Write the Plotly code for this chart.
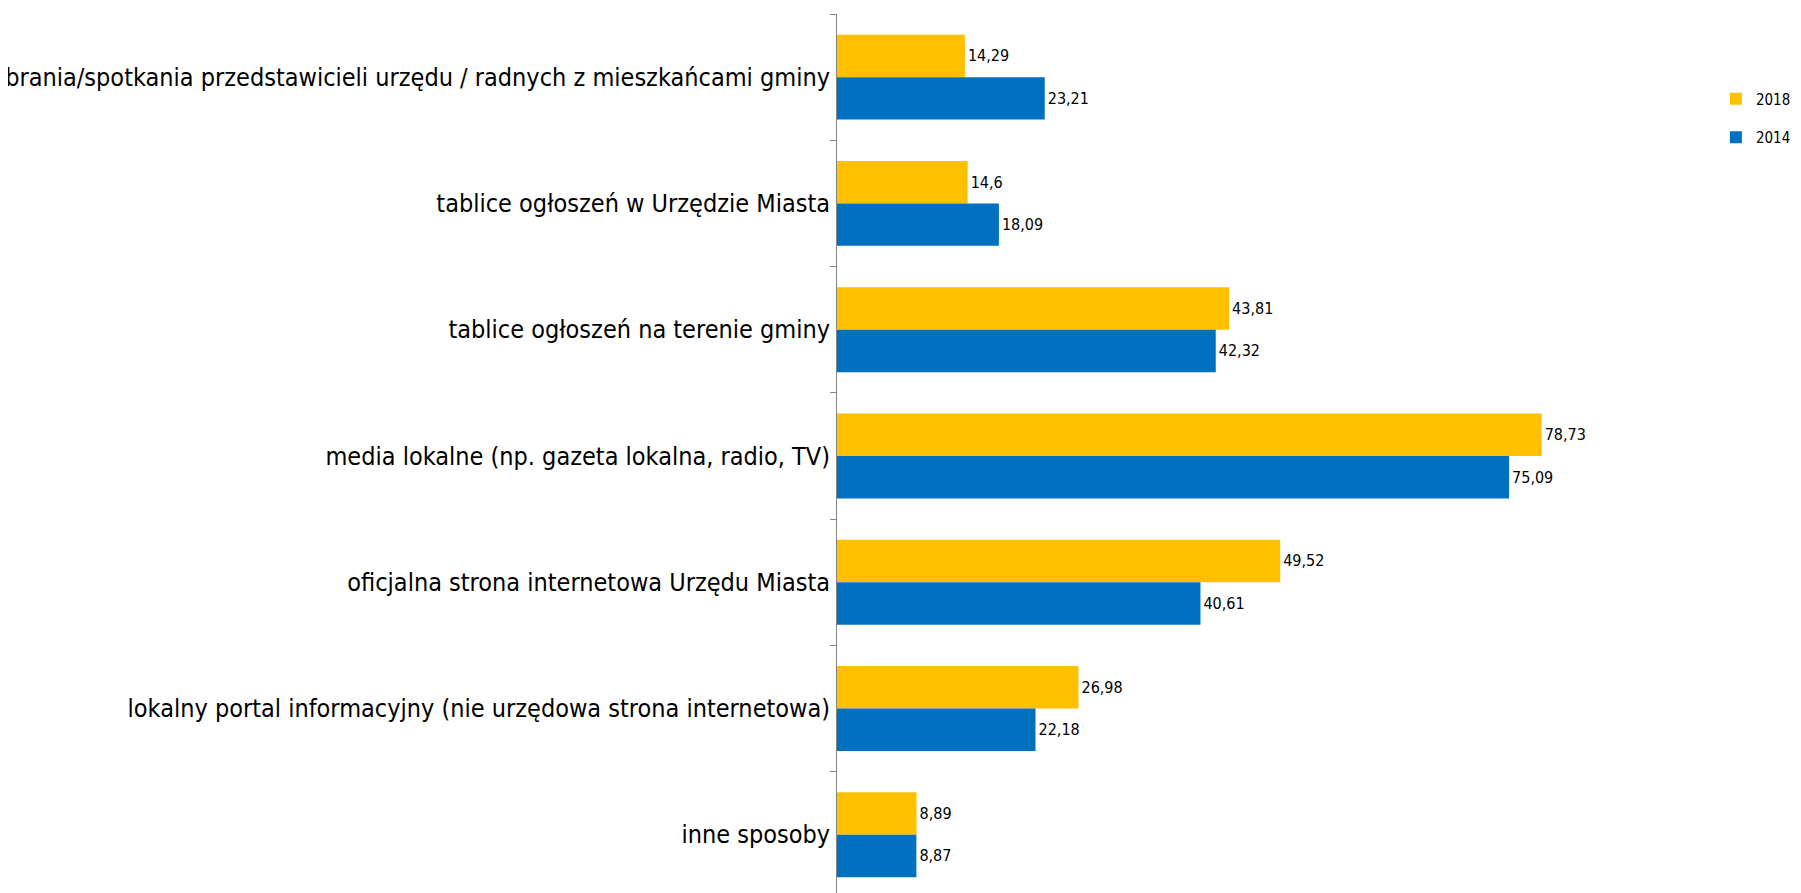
import plotly.graph_objects as go

categories = [
    "zebrania/spotkania przedstawicieli urzędu / radnych z mieszkańcami gminy",
    "tablice ogłoszeń w Urzędzie Miasta",
    "tablice ogłoszeń na terenie gminy",
    "media lokalne (np. gazeta lokalna, radio, TV)",
    "oficjalna strona internetowa Urzędu Miasta",
    "lokalny portal informacyjny (nie urzędowa strona internetowa)",
    "inne sposoby",
]
values_2018 = [14.29, 14.6, 43.81, 78.73, 49.52, 26.98, 8.89]
values_2014 = [23.21, 18.09, 42.32, 75.09, 40.61, 22.18, 8.87]
series_names = ["2018", "2014"]
series_colors = ["#FFC000", "#0070C0"]

NARROW = "DejaVu Sans Condensed, Liberation Sans Narrow, Arial Narrow, sans-serif"


def fmt(v):
    return str(v).replace(".", ",")


fig = go.Figure()
for name, vals, col in zip(series_names, [values_2018, values_2014], series_colors):
    fig.add_trace(go.Bar(
        y=categories,
        x=vals,
        name=name,
        orientation="h",
        marker=dict(color=col, line=dict(width=0)),
        text=[fmt(v) for v in vals],
        textposition="outside",
        textfont=dict(family=NARROW, size=16, color="#000000"),
        constraintext="none",
        cliponaxis=False,
        legendgroup=name,
    ))

fig.update_layout(
    width=1793,
    height=885,
    margin=dict(l=829, r=69, t=6, b=0, autoexpand=False),
    paper_bgcolor="white",
    plot_bgcolor="white",
    barmode="group",
    bargap=0.327,
    bargroupgap=0,
    showlegend=True,
    legend=dict(
        x=0.982, xanchor="left",
        y=0.922, yanchor="top",
        traceorder="grouped",
        tracegroupgap=16,
        font=dict(family=NARROW, size=15, color="#000000"),
        bgcolor="rgba(0,0,0,0)",
        borderwidth=0,
    ),
    xaxis=dict(
        range=[0, 100],
        visible=False,
        showgrid=False,
        zeroline=False,
    ),
    yaxis=dict(
        type="category",
        categoryorder="array",
        categoryarray=categories,
        range=[6.462, -0.5],
        showline=True,
        linecolor="#868686",
        linewidth=1,
        ticks="outside",
        tickson="boundaries",
        ticklen=6,
        tickwidth=1,
        tickcolor="#868686",
        showgrid=False,
        zeroline=False,
        automargin=False,
        ticklabelstandoff=1,
        tickfont=dict(family=NARROW, size=25, color="#000000"),
    ),
)

fig.write_html("out.html")
